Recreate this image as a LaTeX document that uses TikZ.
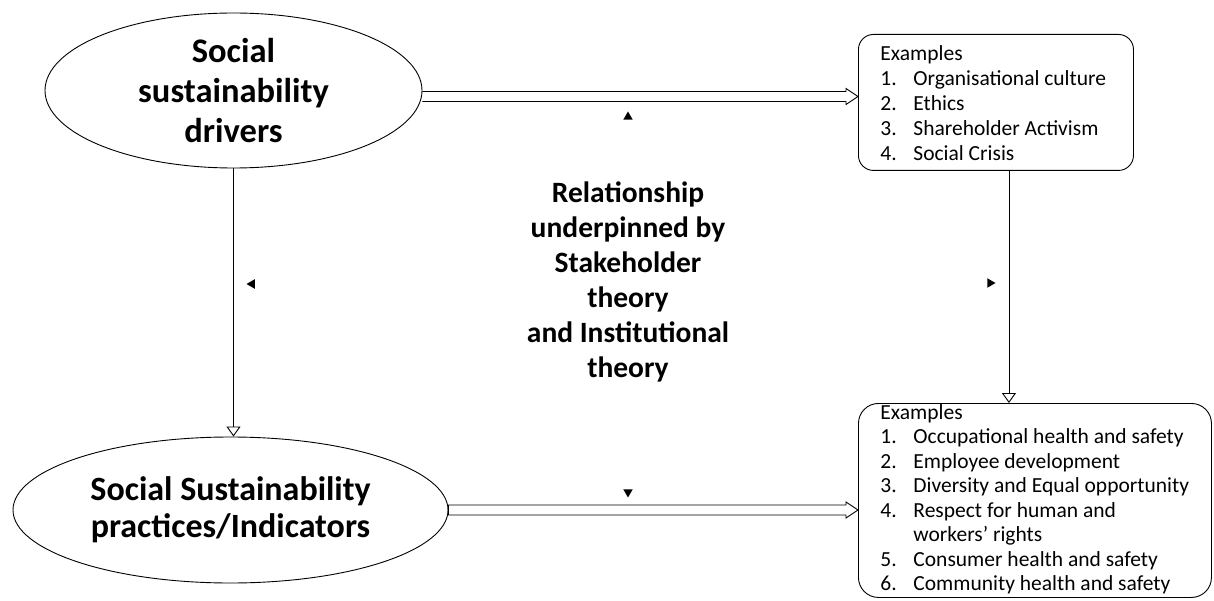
\documentclass[tikz,border=0pt]{standalone}
\usepackage{fontspec}
\setmainfont{Carlito}
\usetikzlibrary{shapes.geometric,arrows.meta,calc}
\newcommand\hollowarrow[3]{% start, end, extra (e.g. -- cycle)
  \draw ($(#1)+(0,-5)$) -- ($(#2)+(-12,-5)$) -- ($(#2)+(-12,-8)$) -- (#2)
        -- ($(#2)+(-12,8)$) -- ($(#2)+(-12,5)$) -- ($(#1)+(0,5)$) #3;}
\begin{document}
\begin{tikzpicture}[x=1pt,y=-1pt,line width=0.9pt,
  ell/.style={ellipse, draw, inner sep=0pt, align=center},
  exbox/.style={draw, inner sep=0pt, anchor=north west},
  tri/.style={regular polygon, regular polygon sides=3, fill=black, draw=none, inner sep=0pt, minimum size=11pt},
  vtip/.style={-{Triangle[open,length=10pt,width=14pt]}},
]
\useasboundingbox (0,0) rectangle (1214,601);

% ellipses
\node[ell, minimum width=377pt, minimum height=155pt,
      font=\fontsize{34.5}{40}\selectfont\bfseries] (drv) at (233.5,90.5)
      {Social\\sustainability\\drivers};
\node[ell, minimum width=435pt, minimum height=146pt,
      font=\fontsize{34}{37}\selectfont\bfseries] (prac) at (230.5,510)
      {Social Sustainability\\practices/Indicators};

% example boxes
\node[exbox, rounded corners=15pt, minimum width=275pt, minimum height=136pt] (ex1) at (858,34)
 {\begin{minipage}[t][136pt][t]{275pt}\fontsize{21.5}{25}\selectfont\leftskip=22pt\parindent=0pt
  \vspace*{10pt}\rule{0pt}{16pt}Examples\\
  \makebox[33pt][l]{1.}Organisational culture\\
  \makebox[33pt][l]{2.}Ethics\\
  \makebox[33pt][l]{3.}Shareholder Activism\\
  \makebox[33pt][l]{4.}Social Crisis
  \end{minipage}};
\node[exbox, rounded corners=20pt, minimum width=353pt, minimum height=194pt] (ex2) at (858,403)
 {\begin{minipage}[t][194pt][t]{353pt}\fontsize{21.5}{24.5}\selectfont\leftskip=22pt\parindent=0pt
  \vspace*{0pt}\rule{0pt}{16pt}Examples\\
  \makebox[33pt][l]{1.}Occupational health and safety\\
  \makebox[33pt][l]{2.}Employee development\\
  \makebox[33pt][l]{3.}Diversity and Equal opportunity\\
  \makebox[33pt][l]{4.}Respect for human and\\
  \hspace*{33pt}workers’ rights\\
  \makebox[33pt][l]{5.}Consumer health and safety\\
  \makebox[33pt][l]{6.}Community health and safety
  \end{minipage}};

% centre text
\node[align=center, font=\fontsize{29.5}{35}\selectfont\bfseries] (rel) at (628,282)
  {Relationship\\underpinned by\\Stakeholder\\theory\\and Institutional\\theory};

% double (hollow) arrows
\coordinate (a1s) at ([yshift=-6pt]drv.east);
\coordinate (a1e) at (a1s -| ex1.west);
\hollowarrow{a1s}{a1e}{}
\coordinate (a2s) at (prac.east);
\coordinate (a2e) at (a2s -| ex2.west);
\hollowarrow{a2s}{a2e}{-- cycle}

% vertical arrows
\draw[vtip] (drv.south) -- (drv.south |- prac.north);
\draw[vtip] ([xshift=13pt]ex1.south) -- ([xshift=13pt]ex1.south |- ex2.north);

% small markers
\node[tri] (m1) at (628,117) {};
\node[tri, rotate=90] (m2) at (252,284) {};
\node[tri, rotate=-90] (m3) at (990,283) {};
\node[tri, rotate=180] (m4) at (628,492) {};
\end{tikzpicture}
\end{document}
